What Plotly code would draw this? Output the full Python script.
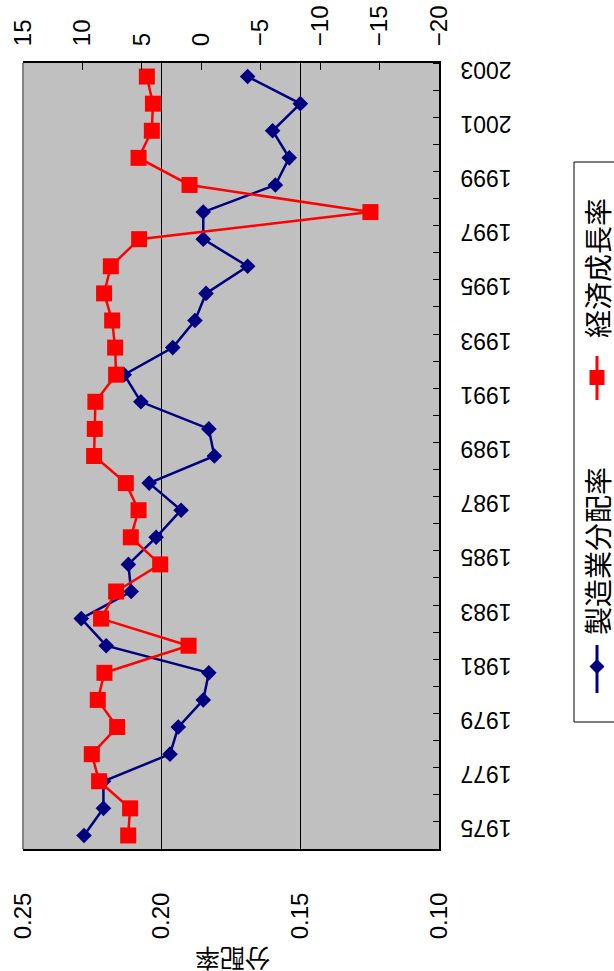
import plotly.graph_objects as go

years = list(range(1975, 2004))
share_mfg = [0.228, 0.221, 0.221, 0.197, 0.194, 0.185, 0.183, 0.220, 0.229, 0.211,
             0.212, 0.202, 0.193, 0.2045, 0.181, 0.183, 0.2075, 0.2135, 0.196, 0.188,
             0.184, 0.169, 0.185, 0.185, 0.159, 0.154, 0.160, 0.150, 0.169]
growth = [6.15, 5.99, 8.6, 9.21, 7.08, 8.71, 8.15, 1.07, 8.43, 7.17,
          3.46, 5.93, 5.28, 6.35, 9.02, 8.96, 8.91, 7.17, 7.25, 7.5,
          8.18, 7.61, 5.23, -14.23, 0.99, 5.28, 4.16, 4.07, 4.58]

share_ticks = [0.25, 0.20, 0.15, 0.10]
share_ticktext = ["0.25", "0.20", "0.15", "0.10"]
growth_ticks = [15, 10, 5, 0, -5, -10, -15, -20]
growth_ticktext = ["15", "10", "5", "0", "\u22125", "\u221210", "\u221215", "\u221220"]
year_ticks = [y for y in years if y % 2 == 1]
year_ticktext = [str(y) for y in year_ticks]

name_mfg = "製造業分配率"
name_growth = "経済成長率"
axis_title = "分配率"

FONT = "Liberation Sans, Arial, Noto Sans CJK JP"
CJK = "Noto Sans CJK JP"

W, H = 614, 971
PL, PR, PT, PB = 23, 439, 63, 849


def px(x):
    return (x - PL) / (PR - PL)


def py(y):
    return (PB - y) / (PB - PT)


fig = go.Figure()
fig.add_trace(go.Scatter(
    x=share_mfg, y=years, xaxis="x", yaxis="y", mode="lines+markers",
    name=name_mfg, line=dict(color="#000080", width=2.5),
    marker=dict(symbol="diamond", size=12, color="#000080")))
fig.add_trace(go.Scatter(
    x=growth, y=years, xaxis="x2", yaxis="y", mode="lines+markers",
    name=name_growth, line=dict(color="#FF0000", width=2.5),
    marker=dict(symbol="square", size=16, color="#FF0000")))

minor_vals = [y - 0.5 for y in years] + [years[-1] + 0.5]

fig.update_layout(
    width=W, height=H,
    margin=dict(l=PL, r=W - PR, t=PT, b=H - PB, pad=0, autoexpand=False),
    paper_bgcolor="white", plot_bgcolor="#C0C0C0",
    showlegend=False,
    font=dict(family=FONT, size=24, color="black"),
    xaxis=dict(
        range=[0.25, 0.10], tickmode="array", tickvals=share_ticks, ticktext=share_ticktext,
        tickangle=-90, ticks="inside", ticklen=6, tickcolor="black", tickwidth=1,
        showgrid=True, gridcolor="black", gridwidth=1, zeroline=False,
        showline=True, linecolor="black", linewidth=2, side="bottom", automargin=False,
        ticklabelstandoff=32, tickfont=dict(size=24, family=FONT, color="black")),
    xaxis2=dict(
        range=[15, -20], overlaying="x", side="top", anchor="y",
        tickmode="array", tickvals=growth_ticks, ticktext=growth_ticktext,
        tickangle=-90, ticks="inside", ticklen=7, tickcolor="black", tickwidth=1,
        showgrid=False, zeroline=False, showline=True, linecolor="black", linewidth=2,
        automargin=False,
        ticklabelstandoff=10, tickfont=dict(size=24, family=FONT, color="black")),
    yaxis=dict(
        range=[1974.5, 2003.5], side="right", tickmode="array",
        tickvals=year_ticks, ticktext=year_ticktext, tickangle=180,
        ticks="", showgrid=False, zeroline=False, automargin=False,
        showline=True, linecolor="black", linewidth=2,
        ticklabelstandoff=66, tickfont=dict(size=23, family=FONT, color="black"),
        minor=dict(tickmode="array", tickvals=minor_vals, ticks="inside",
                   ticklen=6, tickcolor="black", tickwidth=1, showgrid=False)),
)

shapes = [
    # gray left plot-area border
    dict(type="line", xref="paper", yref="paper", x0=0, x1=0, y0=0, y1=1,
         line=dict(color="#808080", width=2)),
    # legend box
    dict(type="rect", xref="paper", yref="paper", x0=px(574), x1=px(630),
         y0=py(722), y1=py(162), line=dict(color="black", width=1),
         fillcolor="white", layer="below"),
    # legend: growth line + square
    dict(type="line", xref="paper", yref="paper", x0=px(597), x1=px(597),
         y0=py(356), y1=py(400), line=dict(color="#FF0000", width=3)),
    dict(type="rect", xref="paper", yref="paper", x0=px(589.5), x1=px(604.5),
         y0=py(385), y1=py(370), line=dict(width=0), fillcolor="#FF0000"),
    # legend: mfg line + diamond
    dict(type="line", xref="paper", yref="paper", x0=px(597), x1=px(597),
         y0=py(645), y1=py(693), line=dict(color="#000080", width=3)),
    dict(type="path", xref="paper", yref="paper",
         path=f"M {px(597)},{py(659)} L {px(604.5)},{py(666.5)} L {px(597)},{py(674)} "
              f"L {px(589.5)},{py(666.5)} Z",
         line=dict(width=0), fillcolor="#000080"),
]
fig.update_layout(shapes=shapes)

annotations = [
    dict(text=axis_title, xref="paper", yref="paper", x=px(233), y=py(960),
         xanchor="center", yanchor="middle", showarrow=False, textangle=180,
         font=dict(family=CJK, size=25, color="black")),
    dict(text=name_growth, xref="paper", yref="paper", x=px(597), y=py(268),
         xanchor="center", yanchor="middle", showarrow=False, textangle=-90,
         font=dict(family=CJK, size=28, color="black")),
    dict(text=name_mfg, xref="paper", yref="paper", x=px(597), y=py(551),
         xanchor="center", yanchor="middle", showarrow=False, textangle=-90,
         font=dict(family=CJK, size=28, color="black")),
]
fig.update_layout(annotations=annotations)

fig.write_html("out.html", config={"displayModeBar": False},
               post_script="document.body.style.margin='0';document.body.style.overflow='hidden';")
